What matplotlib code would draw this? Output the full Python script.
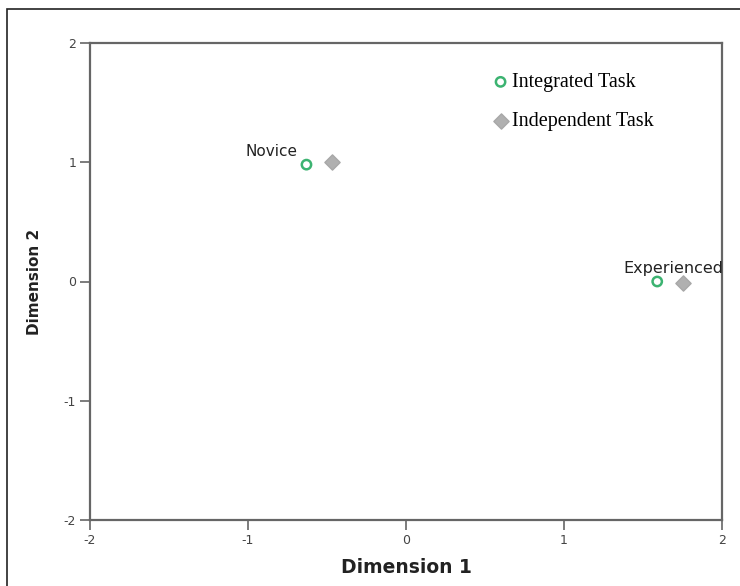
import matplotlib.pyplot as plt
from matplotlib.patches import Rectangle

plt.rcParams['axes.unicode_minus'] = False

# coordenadas das dimensoes
groups = ['Novice', 'Experienced']
integrated_x = [-0.63, 1.59]
integrated_y = [0.98, 0.00]
independent_x = [-0.47, 1.75]
independent_y = [1.00, -0.01]
ticks = [-2, -1, 0, 1, 2]

fig = plt.figure(figsize=(7.4, 5.86), dpi=100)
fig.patches.append(Rectangle((7/740, -0.1), 1.2, 1 - 9/586 + 0.1, transform=fig.transFigure,
                             fill=False, edgecolor='#222222', linewidth=1.2))
ax = fig.add_axes([90/740, 1 - 520/586, (722 - 90)/740, (520 - 43)/586])

ax.scatter(integrated_x, integrated_y, s=45, facecolors='none', edgecolors='#3cb371',
           linewidths=1.8, zorder=3, label='Integrated Task')
ax.scatter(independent_x, independent_y, s=60, marker='D', color='#b0b0b0',
           edgecolors='#a8a8a8', zorder=3, label='Independent Task')

# etiquetas dos grupos
ax.text(integrated_x[0] - 0.22, integrated_y[0] + 0.05, groups[0], fontsize=11, ha='center',
        va='bottom', color='#222222', family='DejaVu Sans')
ax.text(integrated_x[1] + 0.1, integrated_y[1] + 0.05, groups[1], fontsize=11.5, ha='center',
        va='bottom', color='#222222', family='DejaVu Sans')

ax.set_xlim(-2, 2)
ax.set_ylim(-2, 2)
ax.set_xticks(ticks)
ax.set_yticks(ticks)
ax.tick_params(direction='out', length=7, width=1.2, colors='#666666', labelsize=9,
               labelcolor='#444444', pad=3)
for s in ax.spines.values():
    s.set_color('#666666')
    s.set_linewidth(1.6)

ax.set_xlabel('Dimension 1', fontsize=13.5, fontweight='bold', color='#222222', labelpad=8,
              family='DejaVu Sans')
ax.set_ylabel('Dimension 2', fontsize=11, fontweight='bold', color='#222222', labelpad=16,
              family='DejaVu Sans')

leg = ax.legend(loc='upper left', bbox_to_anchor=(0.605, 0.975), frameon=False,
                prop={'family': 'Liberation Serif', 'size': 14.5}, handletextpad=0.05,
                labelspacing=1.0, handlelength=1.0)

plt.savefig('out.png', dpi=100)
